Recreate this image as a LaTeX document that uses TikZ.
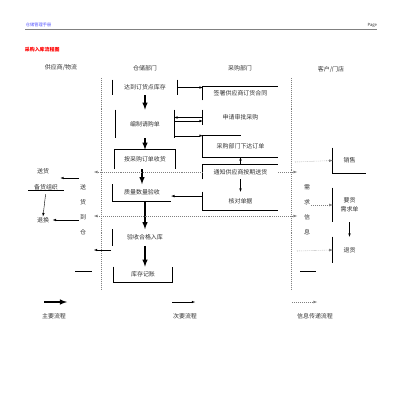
\documentclass[tikz,border=0pt]{standalone}
\usepackage{fontspec}
\setmainfont{Noto Sans CJK SC}
\usepackage{tikz}
\usetikzlibrary{arrows}

\begin{document}
\begin{tikzpicture}[x=0.05cm,y=-0.05cm,line width=0.8pt,
  every node/.style={font=\fontsize{8.5}{10}\selectfont,text=black!80,inner sep=1pt},
  blk/.style={inner sep=0pt},
  main/.style={line width=2.4pt,-latex},
  sub/.style={line width=0.6pt,-latex},
  info/.style={gray,dotted,line width=0.8pt,-latex},
  lane/.style={gray,dotted,line width=0.8pt}]
\useasboundingbox (0,0) rectangle (400,410);

% page header
  \draw (25,25) node[anchor=west,font=\fontsize{6}{7}\selectfont,text=blue!70] (hdr) {仓储管理手册};
  \draw (378,25) node[anchor=east,font=\fontsize{6}{7}\selectfont] (pg) {Page};
  \draw[gray,line width=0.6pt] (25,29) -- (377,29);
  \draw (24,50) node[anchor=west,font=\fontsize{7}{8}\selectfont\bfseries,text=red] (title) {采购入库流程图};

% lanes
  \draw (61,68) node (supp) {供应商/物流};
  \draw (145,68) node (store) {仓储部门};
  \draw (240,68) node (buy) {采购部门};
  \draw (331,69) node (cust) {客户/门店};
  \draw[lane] (101,78) -- (101,290);
  \draw[lane] (291,78) -- (291,290);

% warehouse column
  \draw (145,87.5) node[blk,minimum width=3.2cm,minimum height=0.75cm] (dinghuo) {达到订货点库存};
    \draw (dinghuo.north west) -- (dinghuo.south west) (dinghuo.north east) -- (dinghuo.south east);
  \draw (145,124) node[blk,minimum width=2.9cm,minimum height=1.4cm] (qinggou) {编制请购单};
    \draw (qinggou.north west) -- (qinggou.south west) (qinggou.north east) -- (qinggou.south east);
  \draw (145,159.5) node[blk,minimum width=3cm,minimum height=0.95cm] (shouhuo) {按采购订单收货};
    \draw (shouhuo.south west) -- (shouhuo.north west) -- (shouhuo.north east) -- (shouhuo.south east);
  \draw (142,192.5) node[blk,minimum width=2.9cm,minimum height=0.8cm] (yanshou) {质量数量验收};
    \draw (yanshou.north west) -- (yanshou.south west) -- (yanshou.south east);
  \draw (145,237.5) node[blk,minimum width=3.2cm,minimum height=0.8cm] (ruku) {验收合格入库};
    \draw (ruku.north west) -- (ruku.south west);
  \draw (143,274.5) node[blk,minimum width=2.9cm,minimum height=0.75cm] (jizhang) {库存记账};
    \draw (jizhang.north west) -- (jizhang.south west) -- (jizhang.south east) -- (jizhang.north east);

% purchasing column
  \draw (240.5,93.5) node[blk,minimum width=3.75cm,minimum height=0.65cm] (hetong) {签署供应商订货合同};
    \draw (hetong.south west) -- (hetong.north west) -- (hetong.north east);
  \draw (240.5,117.5) node[blk,minimum width=3.75cm,minimum height=0.75cm] (shenpi) {申请审批采购};
    \draw (shenpi.north west) -- (shenpi.south west);
  \draw (240.5,146.5) node[blk,minimum width=3.75cm,minimum height=1.05cm] (xiada) {采购部门下达订单};
    \draw (xiada.north) -- (xiada.north west) -- (xiada.south west) -- (xiada.south east);
  \draw (240.5,172) node[blk,minimum width=3.75cm,minimum height=0.7cm] (tongzhi) {通知供应商按期送货};
    \draw (tongzhi.south west) -- (tongzhi.north west) -- (tongzhi.north east);
  \draw (240.5,201) node[blk,minimum width=3.75cm,minimum height=0.9cm] (hedui) {核对单据};
    \draw (hedui.north west) -- (hedui.south west) -- (hedui.south east);

% customer column
  \draw (349.5,160.5) node[blk,minimum width=1.65cm,minimum height=1.25cm] (xiaoshou) {销售};
    \draw (xiaoshou.north west) -- (xiaoshou.south west) -- (xiaoshou.south east);
  \draw (349.5,205) node[blk,minimum width=1.65cm,minimum height=1.7cm,align=center,
        font=\fontsize{8.5}{13}\selectfont] (yaohuo) {要货\\需求单};
    \draw (yaohuo.north west) -- (yaohuo.south west);
  \draw (349.5,250) node[blk,minimum width=1.65cm,minimum height=1.3cm] (tuihuo) {退货};
    \draw (tuihuo.north west) -- (tuihuo.south west);
  \draw (307,209.5) node[align=center,font=\fontsize{8.5}{21.3}\selectfont] (xuqiu) {需\\求\\信\\息};

% supplier column
  \draw (43,171) node (songhuo) {送货};
  \draw (46,187) node[minimum width=1.75cm] (beihuo) {备货组织};
    \draw (beihuo.south west) -- (beihuo.south east);
  \draw (43,220) node (huanhuo) {退换};
  \draw (83,209.5) node[align=center,font=\fontsize{8.5}{21.3}\selectfont] (daocang) {送\\货\\到\\仓};

% main flow
  \path[main] (dinghuo) edge (qinggou);
  \path[main] (qinggou) edge (shouhuo);
  \path[main] (shouhuo.south -| yanshou.north) edge (yanshou);
  \path[main] (yanshou.south -| ruku.north) edge (ruku.north);
  \path[main] (ruku.south) edge (ruku.south |- jizhang.north);

% secondary flow
  \coordinate (e2) at ([yshift=-5pt]shenpi.west);
  \coordinate (hw) at ([yshift=7pt]hedui.west);
  \coordinate (la) at (79,178);
  \coordinate (lb) at (79,220);
  \coordinate (lc) at (111,250);
  \coordinate (ld) at (94,250);
  \path[sub] (shenpi.west) edge (shenpi.west -| qinggou.east);
  \path[sub] (e2 -| qinggou.east) edge (e2);
  \path[sub] (xiada.north west -| qinggou.east) edge (xiada.north west);
  \path[sub] (dinghuo.east) edge (dinghuo.east -| hetong.west);
  \path[sub] (tongzhi.north) edge (xiada.south);
  \path[sub] (tongzhi.south) edge (hedui.north);
  \path[sub] (hw) edge (hw -| yanshou.east);
  \path[sub] (yaohuo.south) edge (tuihuo.north);
  \path[sub,shorten <=5pt] (beihuo.south) edge (huanhuo.north);
  \path[sub,shorten >=15pt] (la) edge (la -| songhuo.east);
  \path[sub,shorten >=4pt] (lb) edge (huanhuo.east);
  \path[sub] (lc) edge (ld);

% information flow
  \coordinate (i1l) at (94,172);
  \coordinate (i1r) at (297,172);
  \coordinate (i2l) at (94,216);
  \coordinate (i2r) at (297,216);
  \coordinate (r1) at (295,162);
  \coordinate (r3) at (297,251);
  \path[info] (tongzhi.west) edge (i1l);
  \path[info] (tongzhi.east) edge (i1r);
  \path[info,latex-latex] (i2l) edge (i2r);
  \path[info] (r1) edge (xiaoshou.west);
  \path[info] (xuqiu.east |- yaohuo.west) edge (yaohuo.west);
  \path[info] (r3) edge (tuihuo.west);
  \draw (75,271) -- (92,271);
  \draw (300,271) -- (316,271);

% legend
  \draw (54,316) node (lgmain) {主要流程};
  \draw (185,316) node (lgsub) {次要流程};
  \draw (315,316) node (lginfo) {信息传递流程};
  \coordinate (m1) at (44,302);
  \coordinate (m2) at (67,302);
  \coordinate (s1) at (172,302);
  \coordinate (s2) at (195,302);
  \coordinate (n1) at (292,302);
  \coordinate (n2) at (317,302);
  \path[main] (m1) edge (m2);
  \path[sub] (s1) edge (s2);
  \path[info] (n1) edge (n2);

\end{tikzpicture}
\end{document}
